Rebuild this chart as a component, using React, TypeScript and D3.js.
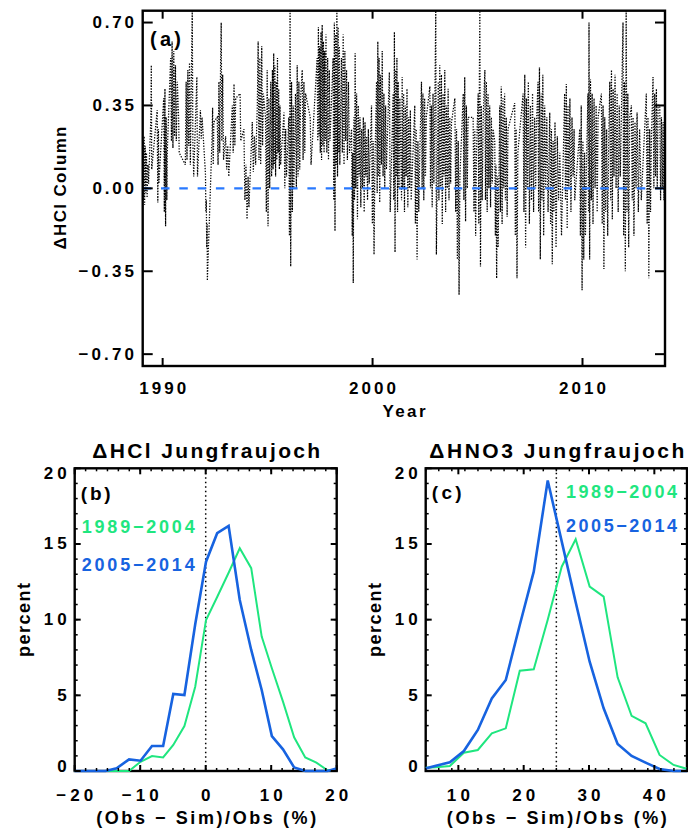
import React from "react";
import * as d3 from "d3";

// ---------- Panel (a): ΔHCl column time series (year, value) ----------
const hcl1989to1994: [number, number][] = [
  [1989.06,0.05],[1989.08,0.20],[1989.10,-0.05],[1989.12,0.22],[1989.14,-0.07],[1989.17,0.18],[1989.20,-0.02],[1989.23,0.15],[1989.26,-0.04],[1989.30,0.10],[1989.33,0.02],
  [1989.44,0.30],[1989.46,0.52],[1989.48,0.08],
  [1989.74,0.33],[1989.77,-0.06],[1989.80,0.25],[1989.82,0.02],
  [1990.05,0.38],[1990.08,-0.10],[1990.11,0.42],[1990.14,-0.16],[1990.17,0.30],[1990.20,-0.05],[1990.22,0.15],
  [1990.38,0.55],[1990.42,0.20],[1990.45,0.62],[1990.49,0.17],[1990.53,0.58],[1990.57,0.22],[1990.61,0.52],[1990.65,0.20],[1990.70,0.45],
  [1990.76,0.30],[1990.79,0.15],
  [1991.08,0.10],[1991.12,0.45],[1991.16,0.12],[1991.20,0.50],[1991.24,0.18],[1991.28,0.53],[1991.32,0.10],[1991.37,0.48],[1991.41,0.75],[1991.44,0.20],[1991.48,0.05],
  [1991.63,0.47],[1991.66,0.05],
  [1991.80,0.33],[1991.84,0.21],[1991.88,0.30],
  [1992.04,0.06],[1992.06,-0.10],[1992.08,-0.05],[1992.10,-0.25],[1992.12,-0.15],[1992.13,-0.39],
  [1992.35,0.20],[1992.38,0.34],[1992.41,0.10],[1992.44,0.28],
  [1992.60,0.30],[1992.64,0.10],[1992.68,0.45],[1992.72,0.15],[1992.76,0.52],[1992.79,0.70],[1992.82,0.20],[1992.86,0.48],[1992.90,0.12],
  [1993.00,0.22],[1993.05,0.08],[1993.10,0.18],[1993.15,0.05],
  [1993.32,0.35],[1993.36,0.15],[1993.40,0.44],[1993.44,0.18],[1993.48,0.38],
  [1993.69,0.40],[1993.72,0.20],
  [1993.87,0.25],[1993.92,-0.05],[1993.97,0.10],[1994.02,-0.13],[1994.07,0.05],[1994.11,-0.08],
  [1994.27,0.28],[1994.32,0.07],[1994.37,0.22],[1994.43,0.10],
  [1994.51,0.35],[1994.55,0.62],[1994.59,0.12],[1994.63,0.55],[1994.67,0.10],[1994.72,0.60],[1994.76,0.18],[1994.80,0.40],
  [1994.90,0.30],[1994.94,-0.10],[1994.98,0.50],[1995.02,-0.16],[1995.06,0.38],[1995.10,0.00],[1995.15,0.45],[1995.19,0.05],
];

const hcl1995to1999: [number, number][] = [
  [1995.23,0.50],[1995.26,0.08],[1995.29,0.57],[1995.32,0.10],[1995.35,0.52],[1995.38,0.05],[1995.41,0.45],[1995.44,0.12],[1995.47,0.55],[1995.50,0.15],[1995.53,0.42],[1995.56,0.08],[1995.59,0.35],[1995.62,0.10],
  [1995.78,0.32],[1995.82,0.00],[1995.86,0.25],[1995.90,0.05],
  [1996.01,0.30],[1996.04,-0.20],[1996.07,0.75],[1996.10,-0.33],[1996.14,0.45],[1996.18,-0.10],[1996.22,0.35],[1996.25,0.00],
  [1996.33,0.40],[1996.37,0.00],[1996.41,0.52],[1996.45,0.05],[1996.49,0.45],[1996.53,0.08],[1996.57,0.38],
  [1996.65,0.50],[1996.69,0.12],[1996.73,0.45],[1996.77,0.15],[1996.81,0.40],
  [1997.03,0.30],[1997.07,0.10],
  [1997.36,0.55],[1997.39,0.20],[1997.42,0.68],[1997.45,0.22],[1997.48,0.60],
  [1997.51,0.15],[1997.54,0.66],[1997.57,0.12],[1997.60,0.69],[1997.63,0.18],[1997.66,0.62],[1997.69,0.15],[1997.72,0.58],[1997.75,0.20],[1997.78,0.65],[1997.82,0.15],[1997.86,0.55],[1997.90,0.12],[1997.94,0.50],[1997.97,0.20],
  [1998.12,0.55],[1998.15,-0.05],[1998.18,0.70],[1998.21,-0.18],[1998.24,0.65],[1998.27,0.10],[1998.30,0.75],[1998.33,0.05],[1998.36,0.68],[1998.39,0.15],[1998.42,0.60],[1998.44,0.10],
  [1998.52,0.55],[1998.56,0.15],[1998.60,0.65],[1998.64,0.10],[1998.68,0.58],[1998.72,0.20],[1998.76,0.50],[1998.80,0.12],[1998.85,0.45],[1998.90,0.15],
  [1999.00,0.25],[1999.03,-0.20],[1999.06,0.15],[1999.08,-0.40],
  [1999.11,0.30],[1999.14,-0.05],[1999.17,0.57],[1999.20,0.00],[1999.24,0.40],[1999.28,-0.13],[1999.32,0.35],[1999.36,0.05],[1999.40,0.30],[1999.44,-0.08],[1999.48,0.25],[1999.52,0.00],[1999.56,0.30],[1999.60,-0.10],[1999.64,0.28],[1999.68,0.05],[1999.72,0.22],[1999.76,-0.05],[1999.80,0.25],[1999.84,0.02],
  [1999.95,0.35],[1999.99,-0.15],[2000.03,0.20],[2000.07,-0.28],[2000.11,0.10],
];

const hcl2000to2004: [number, number][] = [
  [2000.19,0.45],[2000.22,-0.02],[2000.25,0.62],[2000.28,0.05],[2000.31,0.55],[2000.34,-0.06],[2000.38,0.48],[2000.42,0.10],[2000.46,0.58],[2000.50,0.05],[2000.54,0.40],[2000.58,0.00],[2000.62,0.35],[2000.66,0.08],
  [2000.80,0.49],[2000.84,-0.10],
  [2000.98,0.40],[2001.01,-0.05],[2001.04,0.66],[2001.07,-0.27],[2001.10,0.50],[2001.13,0.05],[2001.16,0.55],[2001.19,-0.10],[2001.22,0.45],[2001.26,0.00],[2001.30,0.38],
  [2001.38,-0.05],[2001.41,0.47],[2001.44,0.00],[2001.48,0.40],[2001.52,-0.10],[2001.56,0.35],[2001.60,0.05],[2001.64,0.42],[2001.68,-0.08],[2001.72,0.30],[2001.76,0.00],[2001.80,0.33],[2001.84,-0.05],
  [2002.01,0.35],[2002.04,-0.15],[2002.08,0.25],[2002.12,-0.30],[2002.16,0.20],[2002.20,-0.10],[2002.25,0.15],
  [2002.33,0.45],[2002.36,0.00],[2002.40,0.40],[2002.44,-0.05],[2002.48,0.38],[2002.52,0.05],[2002.56,0.30],
  [2002.73,0.43],[2002.76,0.00],[2002.80,0.35],[2002.84,-0.08],[2002.88,0.40],[2002.92,0.02],[2002.96,0.30],[2003.01,0.75],[2003.04,-0.28],
  [2003.13,0.45],[2003.16,-0.05],[2003.20,0.52],[2003.24,0.00],[2003.28,0.48],[2003.32,-0.15],[2003.36,0.40],[2003.40,0.05],[2003.44,0.50],[2003.48,-0.10],[2003.52,0.35],[2003.56,0.00],[2003.60,0.42],[2003.64,-0.05],[2003.68,0.30],[2003.72,0.02],[2003.76,0.28],
  [2003.92,0.38],[2003.96,-0.10],[2004.00,0.25],[2004.04,-0.30],[2004.08,0.20],[2004.12,-0.45],[2004.16,0.05],
  [2004.32,0.40],[2004.35,-0.05],[2004.39,0.47],[2004.43,-0.14],[2004.47,0.35],[2004.51,0.00],[2004.55,0.30],
  [2004.79,0.30],[2004.83,-0.10],[2004.87,0.25],[2004.91,-0.20],[2004.95,0.15],
];

const hcl2005to2009: [number, number][] = [
  [2005.03,0.40],[2005.06,-0.15],[2005.09,0.50],[2005.11,0.75],[2005.14,-0.33],[2005.18,0.35],[2005.22,-0.05],[2005.27,0.30],
  [2005.35,0.50],[2005.38,-0.05],[2005.42,0.45],[2005.46,-0.10],[2005.50,0.40],[2005.54,0.00],[2005.58,0.35],[2005.62,-0.08],[2005.66,0.30],[2005.70,0.02],[2005.74,0.25],
  [2005.82,0.20],[2005.85,-0.20],[2005.88,0.10],[2005.91,-0.38],[2005.95,0.05],[2005.98,-0.25],
  [2006.06,0.35],[2006.09,-0.10],[2006.13,0.43],[2006.17,-0.15],[2006.21,0.38],[2006.25,0.00],[2006.29,0.40],[2006.33,-0.05],[2006.37,0.30],[2006.41,-0.12],[2006.45,0.25],
  [2006.77,0.36],[2006.80,-0.20],[2006.84,0.25],[2006.88,-0.38],[2006.92,0.15],
  [2007.17,0.40],[2007.21,-0.10],[2007.25,0.48],[2007.29,-0.25],[2007.33,0.38],[2007.37,0.00],[2007.42,0.45],[2007.47,-0.15],[2007.52,0.35],[2007.57,-0.05],[2007.62,0.40],[2007.67,-0.10],[2007.72,0.30],[2007.77,0.00],[2007.80,0.25],
  [2007.88,0.45],[2007.91,-0.10],[2007.95,0.51],[2007.99,-0.30],[2008.03,0.40],[2008.07,-0.05],[2008.11,0.48],[2008.15,-0.20],[2008.20,0.35],[2008.25,0.00],[2008.30,0.30],[2008.36,-0.10],
  [2008.44,0.32],[2008.48,-0.15],[2008.52,0.25],[2008.56,-0.32],[2008.60,0.20],[2008.64,-0.10],[2008.69,0.28],[2008.74,-0.25],[2008.80,0.22],[2008.86,-0.05],[2008.92,0.15],[2009.00,-0.20],
  [2009.15,0.40],[2009.19,-0.05],[2009.23,0.44],[2009.27,-0.17],[2009.31,0.35],[2009.35,0.00],[2009.40,0.38],[2009.45,-0.10],[2009.50,0.30],[2009.55,0.05],[2009.60,0.25],[2009.63,-0.05],
  [2009.87,0.25],[2009.90,-0.20],[2009.94,0.35],[2009.98,-0.43],[2010.02,0.20],[2010.06,-0.30],[2010.10,0.15],[2010.14,-0.20],[2010.19,0.10],
];

const hcl2010to2014: [number, number][] = [
  [2010.26,0.40],[2010.29,-0.10],[2010.31,0.70],[2010.34,-0.30],[2010.38,0.46],[2010.42,-0.05],[2010.46,0.40],[2010.50,-0.15],[2010.55,0.38],[2010.60,0.00],[2010.65,0.35],[2010.70,-0.10],[2010.74,0.30],
  [2010.90,0.40],[2010.94,-0.15],[2010.98,0.35],[2011.02,-0.34],[2011.06,0.30],[2011.10,-0.10],[2011.15,0.25],[2011.20,-0.20],[2011.25,0.20],
  [2011.30,0.45],[2011.34,-0.05],[2011.38,0.50],[2011.42,-0.13],[2011.46,0.42],[2011.50,0.05],[2011.55,0.48],[2011.60,0.00],[2011.65,0.40],[2011.70,-0.10],[2011.75,0.35],[2011.80,0.05],[2011.85,0.30],
  [2011.93,0.70],[2011.96,-0.20],[2012.00,0.45],[2012.04,-0.35],[2012.08,0.75],[2012.12,-0.10],[2012.16,0.40],[2012.20,-0.25],[2012.25,0.30],
  [2012.33,0.35],[2012.37,-0.05],[2012.41,0.30],[2012.45,-0.20],[2012.50,0.28],[2012.55,0.00],[2012.60,0.32],[2012.66,-0.10],[2012.72,0.25],[2012.80,-0.05],
  [2013.04,0.40],[2013.08,-0.15],[2013.12,0.30],[2013.16,-0.38],[2013.20,0.25],[2013.24,-0.10],[2013.28,0.20],
  [2013.36,0.47],[2013.40,0.00],[2013.44,0.40],[2013.48,0.05],[2013.52,0.42],[2013.56,0.00],[2013.60,0.35],
  [2013.68,0.35],[2013.72,-0.05],[2013.76,0.30],[2013.80,0.00],[2013.84,0.28],[2013.88,-0.05],[2013.92,0.25],
];

const yearTicks = [1990, 2000, 2010];
const hclTickValues = [0.7, 0.35, 0, -0.35, -0.7];
const hclTickLabels = ["0.70", "0.35", "0.00", "\u22120.35", "\u22120.70"];

// ---------- Panel (b): ΔHCl histogram ----------
const hclBins = [-20.3, -18.6, -16.9, -15.3, -13.6, -11.7, -9.95, -8.2, -6.5, -4.95, -3.25, -1.6, 0.05, 1.75, 3.5, 5.2, 6.95, 8.55, 10.1, 11.8, 13.5, 15.2, 16.9, 18.6, 20.3];
const hclOld = [0, 0, 0, 0, 0, 0, 0.61, 0.99, 0.9, 1.72, 2.97, 5.57, 9.98, 11.5, 13.1, 14.72, 13.4, 8.88, 6.79, 4.58, 2.23, 0.9, 0.55, 0.05, 0.05];
const hclNew = [0, 0, 0, 0, 0.18, 0.77, 0.68, 1.65, 1.65, 5.09, 5.02, 9.7, 13.83, 15.71, 16.19, 11.3, 8.0, 5.35, 2.31, 1.43, 0.24, 0, 0, 0, 0.2];
const hclXTicks = [-20, -10, 0, 10, 20];
const hclXLabels = ["\u221220", "\u221210", "0", "10", "20"];

// ---------- Panel (c): ΔHNO3 histogram ----------
const hno3Bins = [4.42, 6.56, 8.70, 10.84, 12.98, 15.12, 17.26, 19.40, 21.54, 23.68, 25.82, 27.96, 30.10, 32.24, 34.38, 36.52, 38.66, 40.80, 42.94, 45.08];
const hno3Old = [0.2, 0.25, 0.33, 1.21, 1.39, 2.49, 2.82, 6.63, 6.72, 10.0, 13.5, 15.31, 12.18, 11.52, 6.19, 3.65, 3.15, 1.06, 0.4, 0.13];
const hno3New = [0.1, 0.35, 0.57, 1.32, 2.71, 4.8, 6.01, 9.65, 13.17, 19.19, 15.17, 11.15, 7.22, 4.14, 1.78, 0.99, 0.55, 0.13, 0, 0];
const hno3XTicks = [10, 20, 30, 40];

const percentTicks = [0, 5, 10, 15, 20];
const periodLabels = ["1989\u22122004", "2005\u22122014"];

const GREEN = "#1fe67f";
const BLUE = "#1763e0";
const FONT = "'Liberation Sans', Arial, Helvetica, sans-serif";

type TP = { x: number; y: number; w?: number; size?: number; anchor?: string; fill?: string; rot?: number; children: React.ReactNode };
function T({ x, y, w, size = 17, anchor = "middle", fill = "#000", rot = 0, children }: TP) {
  return (
    <text
      x={x}
      y={y}
      fontFamily={FONT}
      fontWeight="bold"
      fontSize={size}
      textAnchor={anchor as any}
      dominantBaseline="central"
      fill={fill}
      textLength={w}
      lengthAdjust={w ? "spacing" : undefined}
      transform={rot ? `rotate(${rot},${x},${y})` : undefined}
    >
      {children}
    </text>
  );
}

const labelW = (s: string) => {
  let w = 0;
  for (const c of s) w += c === "." ? 7 : c === "\u2212" ? 14 : 11.5;
  return w;
};

function TopPanel() {
  const L = 142.7, R = 665, TOP = 10.7, B = 366;
  const x = d3.scaleLinear().domain([1989.05, 2013.93]).range([L, R]);
  const y = d3.scaleLinear().domain([-0.75, 0.75]).range([B, TOP]);
  const data = [...hcl1989to1994, ...hcl1995to1999, ...hcl2000to2004, ...hcl2005to2009, ...hcl2010to2014];
  const line = d3.line<[number, number]>().x((d) => x(d[0])).y((d) => y(d[1]));
  return (
    <g>
      <defs>
        <clipPath id="clipA">
          <rect x={L} y={TOP} width={R - L} height={B - TOP} />
        </clipPath>
      </defs>
      <g clipPath="url(#clipA)">
        <path d={line(data) || ""} fill="none" stroke="#000" strokeWidth={1.25} strokeDasharray="1.3 1.5" />
        <line x1={L} x2={R} y1={y(0)} y2={y(0)} stroke="#2979ff" strokeWidth={2.2} strokeDasharray="8.5 9.8" />
      </g>
      <rect x={L} y={TOP} width={R - L} height={B - TOP} fill="none" stroke="#000" strokeWidth={2.4} />
      {yearTicks.map((t) => (
        <g key={t}>
          <line x1={x(t)} x2={x(t)} y1={B} y2={B - 8} stroke="#000" strokeWidth={2} />
          <line x1={x(t)} x2={x(t)} y1={TOP} y2={TOP + 8} stroke="#000" strokeWidth={2} />
          <T x={x(t)} y={388} w={47}>{String(t)}</T>
        </g>
      ))}
      {hclTickValues.map((v, i) => (
        <g key={v}>
          <line x1={L} x2={L + 10} y1={y(v)} y2={y(v)} stroke="#000" strokeWidth={2} />
          <line x1={R} x2={R - 10} y1={y(v)} y2={y(v)} stroke="#000" strokeWidth={2} />
          <T x={134} y={y(v)} anchor="end" w={labelW(hclTickLabels[i])}>{hclTickLabels[i]}</T>
        </g>
      ))}
      <T x={150} y={39} anchor="start" w={31} size={20}>(a)</T>
      <T x={404} y={411} w={43}>Year</T>
      <T x={60} y={188} w={123} rot={-90}>ΔHCl Column</T>
    </g>
  );
}

type HP = {
  L: number; R: number; xDomain: [number, number]; xTicks: number[]; xLabels: string[]; minorStep: number;
  bins: number[]; oldV: number[]; newV: number[]; refX: number; title: string; titleW: number; tag: string;
  legX: number; legY: [number, number]; legW: number; id: string;
};

function HistPanel(p: HP) {
  const TOP = 468.3, B = 771;
  const x = d3.scaleLinear().domain(p.xDomain).range([p.L, p.R]);
  const y = d3.scaleLinear().domain([0, 20]).range([B, TOP]);
  const mk = (vals: number[]) =>
    d3.line<number>().x((_, i) => x(p.bins[i])).y((d) => y(d))(vals) || "";
  const minorX: number[] = [];
  for (let v = p.xDomain[0]; v <= p.xDomain[1] + 1e-6; v += p.minorStep) minorX.push(v);
  const minorY = d3.range(0, 21, 1);
  const cx = (p.L + p.R) / 2;
  return (
    <g>
      <defs>
        <clipPath id={p.id}>
          <rect x={p.L} y={TOP - 2} width={p.R - p.L} height={B - TOP + 4} />
        </clipPath>
      </defs>
      <line x1={x(p.refX)} x2={x(p.refX)} y1={TOP} y2={B} stroke="#000" strokeWidth={1.5} strokeDasharray="1.5 3" />
      <rect x={p.L} y={TOP} width={p.R - p.L} height={B - TOP} fill="none" stroke="#000" strokeWidth={2.4} />
      <g clipPath={`url(#${p.id})`}>
        <path d={mk(p.oldV)} fill="none" stroke={GREEN} strokeWidth={2} strokeLinejoin="miter" />
        <path d={mk(p.newV)} fill="none" stroke={BLUE} strokeWidth={2.6} strokeLinejoin="miter" />
      </g>
      {minorX.map((v, i) => (
        <g key={"mx" + i}>
          <line x1={x(v)} x2={x(v)} y1={B} y2={B - 3} stroke="#000" strokeWidth={1.5} />
          <line x1={x(v)} x2={x(v)} y1={TOP} y2={TOP + 3} stroke="#000" strokeWidth={1.5} />
        </g>
      ))}
      {minorY.map((v) => (
        <g key={"my" + v}>
          <line x1={p.L} x2={p.L + 3} y1={y(v)} y2={y(v)} stroke="#000" strokeWidth={1.5} />
          <line x1={p.R} x2={p.R - 3} y1={y(v)} y2={y(v)} stroke="#000" strokeWidth={1.5} />
        </g>
      ))}
      {p.xTicks.map((v, i) => (
        <g key={"x" + v}>
          <line x1={x(v)} x2={x(v)} y1={B} y2={B - 6} stroke="#000" strokeWidth={2} />
          <line x1={x(v)} x2={x(v)} y1={TOP} y2={TOP + 6} stroke="#000" strokeWidth={2} />
          <T x={x(v)} y={795} w={labelW(p.xLabels[i])}>{p.xLabels[i]}</T>
        </g>
      ))}
      {percentTicks.map((v) => (
        <g key={"y" + v}>
          <line x1={p.L} x2={p.L + 6} y1={y(v)} y2={y(v)} stroke="#000" strokeWidth={2} />
          <line x1={p.R} x2={p.R - 6} y1={y(v)} y2={y(v)} stroke="#000" strokeWidth={2} />
          <T x={p.L - 8} y={Math.min(Math.max(y(v), 473), 766.5)} anchor="end" w={labelW(String(v))}>{String(v)}</T>
        </g>
      ))}
      <T x={cx + 0.5} y={450} w={p.titleW} size={21}>{p.title}</T>
      <T x={cx + 0.5} y={818} w={220} size={18}>(Obs − Sim)/Obs (%)</T>
      <T x={p.L - 51} y={620} w={74} size={18} rot={-90}>percent</T>
      <T x={p.L + 6} y={p.tag === "(b)" ? 493 : 492} anchor="start" w={30} size={19}>{p.tag}</T>
      <T x={p.legX} y={p.legY[0]} anchor="start" w={p.legW} size={18} fill={GREEN}>{periodLabels[0]}</T>
      <T x={p.legX} y={p.legY[1]} anchor="start" w={p.legW} size={18} fill={BLUE}>{periodLabels[1]}</T>
    </g>
  );
}

export default function App() {
  return (
    <svg
      width={688}
      height={831}
      viewBox="0 0 688 831"
      style={{ position: "absolute", left: 0, top: 0, background: "#fff" }}
    >
      <rect x={0} y={0} width={688} height={831} fill="#fff" />
      <TopPanel />
      <HistPanel
        id="clipB" L={74.7} R={336.7} xDomain={[-20, 20]} xTicks={hclXTicks} xLabels={hclXLabels} minorStep={10 / 6}
        bins={hclBins} oldV={hclOld} newV={hclNew} refX={0} title="ΔHCl Jungfraujoch" titleW={228} tag="(b)"
        legX={81.7} legY={[527, 565]} legW={113}
      />
      <HistPanel
        id="clipC" L={425.7} R={687} xDomain={[5, 45]} xTicks={hno3XTicks} xLabels={hno3XTicks.map(String)} minorStep={2}
        bins={hno3Bins} oldV={hno3Old} newV={hno3New} refX={25} title="ΔHNO3 Jungfraujoch" titleW={255} tag="(c)"
        legX={566} legY={[492, 526]} legW={111}
      />
    </svg>
  );
}
